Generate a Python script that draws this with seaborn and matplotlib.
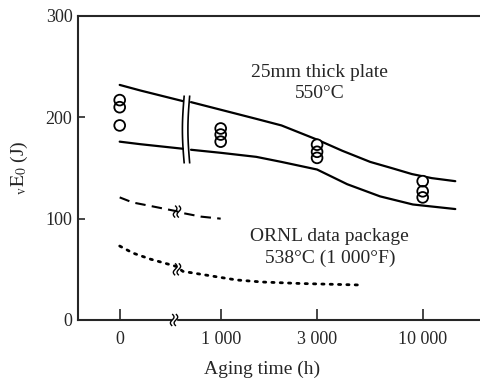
import numpy as np
import pandas as pd
import matplotlib
matplotlib.use("Agg")
import matplotlib.pyplot as plt
import matplotlib.transforms as mtransforms
import seaborn as sns

# ---------------- data ----------------
x_ticks = [0, 1000, 3000, 10000]
x_tick_labels = ["0", "1 000", "3 000", "10 000"]
y_ticks = [0, 100, 200, 300]

# scatter data (aging time h, energy J)
pts_h = [0, 0, 0, 1000, 1000, 1000, 3000, 3000, 3000, 10000, 10000, 10000]
pts_e = [217, 210, 192, 189, 183, 176, 173, 166, 160, 137, 127, 121]

# upper band curve (two segments, broken near 650 h)
upper_h = [0, 400, 650, 713, 1000, 1500, 2000, 3000, 4000, 5500, 7000, 8850, 11100, 14500]
upper_e = [232, 226.5, 216, 215, 207.5, 198.5, 192, 178, 167, 156, 150, 144, 140, 137]
upper_seg = [0, 0, 0, 1, 1, 1, 1, 1, 1, 1, 1, 1, 1, 1]

# lower band curve
lower_h = [0, 400, 650, 713, 1000, 1500, 2000, 3000, 4230, 6150, 8940, 14500]
lower_e = [176, 173.5, 169, 168, 165, 161, 156, 148.5, 134, 122, 114, 109.5]
lower_seg = [0, 0, 0, 1, 1, 1, 1, 1, 1, 1, 1, 1]

# ORNL dashed curve
dash_h = [0, 250, 450, 600, 650, 800, 1000]
dash_e = [121, 116, 112.5, 107.5, 105.5, 102, 100]

# ORNL dotted curve
dot_h = [0, 260, 450, 600, 650, 1000, 1200, 1600, 2500, 5000]
dot_e = [73, 66, 60, 53, 48, 42, 39.5, 37.5, 36, 34.5]

# ---------------- style ----------------
sns.set_style("ticks")
plt.rcParams["font.family"] = ["Liberation Serif", "DejaVu Serif"]
plt.rcParams["mathtext.fontset"] = "stix"
FS_TICK = 13
FS_TEXT = 14

fig = plt.figure(figsize=(4.81, 3.79), dpi=100)
ax = fig.add_axes([78 / 481, 1 - 320 / 379, 1 - 78 / 481, (320 - 16) / 379])

# broken log axis: 0..400 h linear piece, then log10
P0, H1 = 2.5, 400.0
P1 = np.log10(H1)


def fwd(h):
    h = np.asarray(h, dtype=float)
    lin = P0 + (P1 - P0) * h / H1
    lg = np.log10(np.maximum(h, H1))
    return np.where(h <= H1, lin, lg)


def inv(p):
    p = np.asarray(p, dtype=float)
    lin = (p - P0) / (P1 - P0) * H1
    lg = 10 ** np.maximum(p, P1)
    return np.where(p <= P1, lin, lg)


ax.set_xscale("function", functions=(fwd, inv))

df_up = pd.DataFrame({"h": upper_h, "e": upper_e, "seg": upper_seg})
df_lo = pd.DataFrame({"h": lower_h, "e": lower_e, "seg": lower_seg})
df_da = pd.DataFrame({"h": dash_h, "e": dash_e})
df_do = pd.DataFrame({"h": dot_h, "e": dot_e})
df_pt = pd.DataFrame({"h": pts_h, "e": pts_e})

sns.lineplot(data=df_up, x="h", y="e", units="seg", estimator=None, sort=False,
             color="black", lw=1.6, ax=ax)
sns.lineplot(data=df_lo, x="h", y="e", units="seg", estimator=None, sort=False,
             color="black", lw=1.6, ax=ax)
sns.lineplot(data=df_da, x="h", y="e", estimator=None, sort=False,
             color="black", lw=1.5, ax=ax, linestyle=(0, (5, 3)))
sns.lineplot(data=df_do, x="h", y="e", estimator=None, sort=False,
             color="black", lw=2.0, ax=ax, linestyle=(0, (0.8, 2.2)))
ax.lines[-1].set_dash_capstyle("round")

# open circles: white fill pass, then outline pass
sns.scatterplot(data=df_pt, x="h", y="e", s=60, marker="o", color="white",
                edgecolor="none", linewidth=0, ax=ax, zorder=4)
sns.scatterplot(data=df_pt, x="h", y="e", s=60, marker="o", facecolor="none",
                edgecolor="black", linewidth=1.3, ax=ax, zorder=5)

ax.set_xlim(-809, 19440)
ax.set_ylim(0, 300)
ax.set_xticks(x_ticks)
ax.set_xticklabels(x_tick_labels)
ax.xaxis.set_minor_locator(matplotlib.ticker.NullLocator())
ax.set_yticks(y_ticks)
ax.tick_params(axis="x", direction="in", length=8, width=1.2, pad=8, labelsize=FS_TICK)
ax.tick_params(axis="y", direction="in", length=5, width=1.2, pad=4, labelsize=FS_TICK)

for side in ["left", "bottom", "top"]:
    ax.spines[side].set_linewidth(1.5)
ax.spines["right"].set_visible(False)

ax.set_xlabel("Aging time (h)", fontsize=FS_TEXT)
ax.set_ylabel(r"$_{\rm v}{\rm E}_{0}$ (J)", fontsize=FS_TEXT)
ax.xaxis.set_label_coords(0.457, -0.133)
ax.yaxis.set_label_coords(-0.12, 0.5)

ax.text(0.60, 0.78, "25mm thick plate\n550\u00b0C", transform=ax.transAxes,
        ha="center", va="center", fontsize=FS_TEXT, linespacing=1.35)
ax.text(0.625, 0.238, "ORNL data package\n538\u00b0C (1 000\u00b0F)", transform=ax.transAxes,
        ha="center", va="center", fontsize=FS_TEXT, linespacing=1.35)


# --------- break marks (decoration) ---------
def mark(h, e, xs, ys, lw=1.2, white=None):
    tr = fig.dpi_scale_trans + mtransforms.ScaledTranslation(h, e, ax.transData)
    if white is not None:
        wx, wy = white
        ax.fill(wx, wy, color="white", transform=tr, zorder=6, clip_on=False)
    ax.plot(xs, ys, color="black", lw=lw, transform=tr, zorder=7, clip_on=False,
            solid_capstyle="butt")


t = np.linspace(-1, 1, 40)
# band break: two tall lines bowed to the left
H = 0.34
for dx in (-0.02, 0.035):
    mark(675, 188, dx - 0.018 * np.cos(np.pi * t / 2), H * t, lw=1.2)

# small squiggles on the ORNL curves and the x axis
s_h = 0.06
for (hh, ee) in [(610, 107), (610, 50), (590, 0)]:
    for dx in (-0.022, 0.015):
        mark(hh, ee, dx + 0.018 * np.sin(np.pi * t), s_h * t, lw=1.0)
# white gap on x axis between squiggles
mark(590, 0, [], [], white=([-0.022, 0.015, 0.015, -0.022], [-0.012, -0.012, 0.012, 0.012]))

fig.savefig("out.png", dpi=100)
